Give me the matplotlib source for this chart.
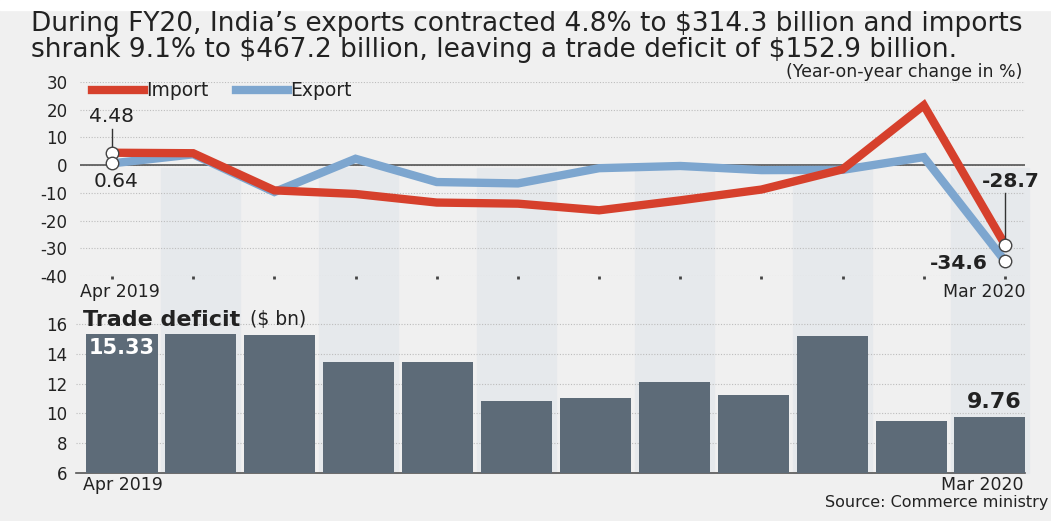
import numpy as np
import matplotlib.pyplot as plt
import matplotlib.transforms as mtransforms
from matplotlib.patches import Rectangle

# FY20 monthly trade figures
months = ['Apr 2019', 'May', 'Jun', 'Jul', 'Aug', 'Sep', 'Oct', 'Nov', 'Dec', 'Jan', 'Feb', 'Mar 2020']
import_yoy = [4.48, 4.3, -9.1, -10.4, -13.5, -13.9, -16.3, -12.7, -8.8, -1.5, 21.6, -28.7]
export_yoy = [0.64, 3.9, -9.7, 2.3, -6.1, -6.6, -1.1, -0.3, -1.8, -1.7, 2.9, -34.6]
trade_deficit = [15.33, 15.36, 15.28, 13.43, 13.45, 10.86, 11.01, 12.12, 11.25, 15.17, 9.5, 9.76]

W, H = 1051, 521
BG = '#f0f0f0'
RED = '#d6402c'
BLUE = '#7da6cf'
BAR = '#5d6b78'
TXT = '#222222'
plt.rcParams['font.family'] = 'DejaVu Sans'
plt.rcParams['axes.unicode_minus'] = False


def px(x, y):
    return x / W, 1 - y / H


fig = plt.figure(figsize=(W / 100, H / 100), dpi=100, facecolor=BG)
fig.patches.append(Rectangle((0, 1 - 10 / H), 1, 10 / H, transform=fig.transFigure,
                             color='white', zorder=0))

# --- top panel: year-on-year change
ax1 = fig.add_axes([80 / W, (H - 276) / H, 945 / W, 194 / H], zorder=2)
ax1.set_facecolor('none')
x = np.arange(len(months))
ax1.set_xlim(-(112 - 80) / 81.2, 11 + (1025 - 1005) / 81.2)
ax1.set_ylim(-40, 30)
ax1.set_yticks(range(-40, 31, 10))
ax1.yaxis.grid(True, color='#bdbdbd', linestyle=(0, (1, 1.5)), linewidth=0.8)
ax1.axhline(0, color='#555555', linewidth=1.2, zorder=2)
for s in ax1.spines.values():
    s.set_visible(False)
ax1.tick_params(axis='y', length=0, labelsize=12, labelcolor=TXT, pad=9)
ax1.set_xticks(x)
ax1.set_xticklabels([])
ax1.tick_params(axis='x', length=2, width=2, color='#444444', direction='out', pad=0)

ax1.plot(x, export_yoy, color=BLUE, linewidth=6, solid_joinstyle='miter', zorder=3)
ax1.plot(x, import_yoy, color=RED, linewidth=6, solid_joinstyle='miter', zorder=4)

ends = [0, len(months) - 1]
for series in (import_yoy, export_yoy):
    ax1.plot(ends, [series[i] for i in ends], 'o', ms=9, mfc='white', mec='#444444',
             mew=1, zorder=6, clip_on=False)

# leader lines and end labels
ax1.plot([0, 0], [import_yoy[0] + 2, 13], color='#333333', lw=1, zorder=5)
ax1.text(0.0, 14, f'{import_yoy[0]:.2f}', ha='center', va='bottom', fontsize=14.5, color=TXT)
ax1.text(0.05, export_yoy[0] - 3, f'{export_yoy[0]:.2f}', ha='center', va='top', fontsize=14.5, color=TXT)
ax1.plot([11, 11], [import_yoy[-1] + 2, -10], color='#333333', lw=1, zorder=5)
ax1.text(11.43, -9.5, f'{import_yoy[-1]:.1f}', ha='right', va='bottom', fontsize=14.5,
         fontweight='bold', color=TXT)
ax1.text(10.79, export_yoy[-1] - 0.8, f'{export_yoy[-1]:.1f}', ha='right', va='center', fontsize=14.5,
         fontweight='bold', color=TXT)

ax1.text(-0.4, -42.5, months[0], ha='left', va='top', fontsize=12.5, color=TXT)
ax1.text(11.25, -42.5, months[-1], ha='right', va='top', fontsize=12.5, color=TXT)

# legend drawn by hand
fig.add_artist(plt.Line2D([92 / W, 144 / W], [1 - 90 / H] * 2, color=RED, lw=6))
fig.text(*px(146, 90), 'Import', ha='left', va='center', fontsize=13.5, color=TXT)
fig.add_artist(plt.Line2D([236 / W, 288 / W], [1 - 90 / H] * 2, color=BLUE, lw=6))
fig.text(*px(290, 90), 'Export', ha='left', va='center', fontsize=13.5, color=TXT)

# --- bottom panel: trade deficit
ax2 = fig.add_axes([76 / W, (H - 473) / H, 949 / W, 156 / H], zorder=2)
ax2.set_facecolor('none')
ax2.set_xlim(-(122 - 76) / 78.9, 11 + (1025 - 990) / 78.9)
ax2.set_ylim(6, 6 + 156 / 14.9)
ax2.set_yticks(range(6, 17, 2))
ax2.yaxis.grid(True, color='#bdbdbd', linestyle=(0, (1, 1.5)), linewidth=0.8)
ax2.set_axisbelow(True)
for s in ['top', 'right', 'left']:
    ax2.spines[s].set_visible(False)
ax2.spines['bottom'].set_color('#555555')
ax2.spines['bottom'].set_linewidth(1.2)
ax2.tick_params(axis='y', length=0, labelsize=12, labelcolor=TXT, pad=6)
ax2.set_xticks([])
ax2.bar(x, trade_deficit, width=0.9, color=BAR, zorder=3)

ax2.text(-0.42, trade_deficit[0] - 0.25, f'{trade_deficit[0]:.2f}', ha='left', va='top',
         fontsize=15, fontweight='bold', color='white', zorder=5)
ax2.text(11.4, trade_deficit[-1] + 0.35, f'{trade_deficit[-1]:.2f}', ha='right', va='bottom',
         fontsize=16, fontweight='bold', color=TXT, zorder=5)
ax2.text(-0.5, 16.3, 'Trade deficit', ha='left', va='center', fontsize=16,
         fontweight='bold', color=TXT)
ax2.text(1.62, 16.3, '($ bn)', ha='left', va='center', fontsize=13.5, color=TXT)
ax2.text(-0.5, 5.78, months[0], ha='left', va='top', fontsize=12.5, color=TXT)
ax2.text(11.42, 5.78, months[-1], ha='right', va='top', fontsize=12.5, color=TXT)

# shaded columns on alternate months running through both panels
stripe_tf = mtransforms.blended_transform_factory(ax2.transData, fig.transFigure)
y0, y1 = 1 - 473 / H, 1 - 168 / H
for i in x[1::2]:
    fig.patches.append(Rectangle((i - 0.5, y0), 1.0, y1 - y0, transform=stripe_tf,
                                 color='#e6e9ec', zorder=0.5))

# headline and notes
fig.text(*px(31, 11), "During FY20, India\u2019s exports contracted 4.8% to \\$314.3 billion and imports\n"
         "shrank 9.1% to \\$467.2 billion, leaving a trade deficit of \\$152.9 billion.",
         ha='left', va='top', fontsize=19, color=TXT, linespacing=1.0)
fig.text(*px(1022, 72), '(Year-on-year change in %)', ha='right', va='center',
         fontsize=12.5, color=TXT)
fig.text(*px(1048, 503), 'Source: Commerce ministry', ha='right', va='center',
         fontsize=11.5, color=TXT)

fig.savefig('out.png', dpi=100, facecolor=BG)
